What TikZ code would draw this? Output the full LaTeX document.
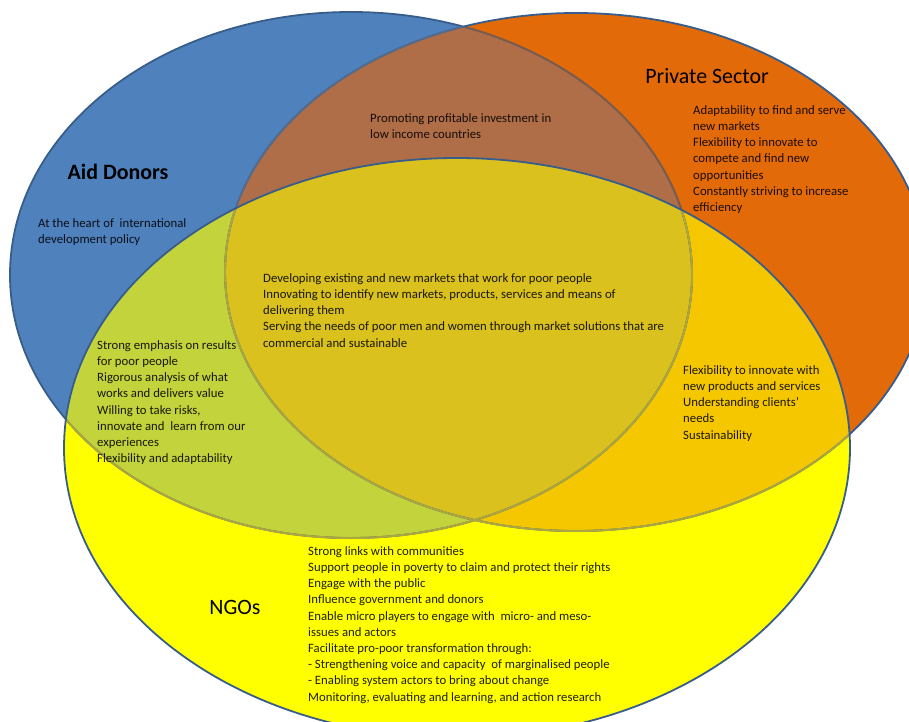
\documentclass[tikz,border=0pt]{standalone}
\usepackage{fontspec}
\setmainfont{Carlito}
\definecolor{cBlue}{HTML}{4F81BD}
\definecolor{cOrange}{HTML}{E36A08}
\definecolor{cBrown}{HTML}{B06E48}
\definecolor{cYellow}{HTML}{FFFF00}
\definecolor{cGreen}{HTML}{C3D33B}
\definecolor{cGold}{HTML}{F5C700}
\definecolor{cCenter}{HTML}{DAC11E}
\definecolor{cLine}{HTML}{385D8A}
\definecolor{cLineBrown}{HTML}{8A5A3A}
\definecolor{cLineGrey}{HTML}{5A6E8C}
\definecolor{cOlive}{HTML}{ABA63E}
\tikzset{
  body/.style={anchor=north west, inner sep=0pt, align=left,
    font=\fontsize{12.8}{16.3}\selectfont, text=black, text opacity=0.88},
  title/.style={inner sep=0pt, font=\fontsize{22}{26}\selectfont, text=black},
  outer/.style={draw=cLine, line width=1.8bp},
  inner/.style={line width=1.3bp}
}
\begin{document}
\begin{tikzpicture}[x=1bp,y=-1bp]
\useasboundingbox (0,0) rectangle (909,722);
\clip (0,0) rectangle (909,722);
\def\ElB{(351,275) ellipse [x radius=341, y radius=263]}
\def\ElO{(576,272) ellipse [x radius=351, y radius=259]}
\def\ElY{(457,448) ellipse [x radius=393, y radius=290]}
% fills
\fill[cBlue] \ElB;
\fill[cOrange] \ElO;
\begin{scope}
  \clip \ElB;
  \fill[cBrown] \ElO;
\end{scope}
\fill[cYellow] \ElY;
\begin{scope}
  \clip \ElY;
  \fill[cGreen] \ElB;
  \fill[cGold] \ElO;
  \clip \ElB;
  \fill[cCenter] \ElO;
\end{scope}
% outlines
\draw[outer] \ElB;
\begin{scope}
  \clip \ElO;
  \draw[inner, draw=cLineBrown] \ElB;
\end{scope}
\draw[outer] \ElO;
\begin{scope}
  \clip \ElB;
  \draw[inner, draw=cLineGrey] \ElO;
\end{scope}
\begin{scope}
  \clip \ElY;
  \draw[line width=2bp, draw=cOlive] \ElB;
  \draw[line width=2bp, draw=cOlive] \ElO;
\end{scope}
\draw[outer] \ElY;
% titles
\node[title, font=\fontsize{22}{26}\selectfont\bfseries] (tAid) at (118,172) {Aid Donors};
\node[title] (tPriv) at (707,76) {Private Sector};
\node[title] (tNGO) at (235,607) {NGOs};
% texts
\node[body] (promo) at (370,113) {Promoting profitable investment in\\low income countries};
\node[body] (aid) at (38,218) {At the heart of\ \ international\\development policy};
\begin{scope}
  \clip \ElO;
  \node[body] (priv) at (693,105) {Adaptability to find and serve\\new markets\\Flexibility to innovate to\\compete and find new\\opportunities\\Constantly striving to increase\\efficiency};
\end{scope}
\node[body] (center) at (263,273) {Developing existing and new markets that work for poor people\\Innovating to identify new markets, products, services and means of\\delivering them\\Serving the needs of poor men and women through market solutions that are\\commercial and sustainable};
\node[body] (left) at (97,340) {Strong emphasis on results\\for poor people\\Rigorous analysis of what\\works and delivers value\\Willing to take risks,\\innovate and\ \ learn from our\\experiences\\Flexibility and adaptability};
\node[body] (right) at (683,365) {Flexibility to innovate with\\new products and services\\Understanding clients’\\needs\\Sustainability};
\node[body] (ngo) at (308,546) {Strong links with communities\\Support people in poverty to claim and protect\ their rights\\Engage with the public\\Influence government\ and donors\\Enable micro players to engage with\ \ micro- and meso-\\issues and actors\\Facilitate pro-poor transformation through:\\- Strengthening voice and capacity\ \ of marginalised people\\- Enabling system actors to bring about change\\Monitoring, evaluating and learning, and action research};
\end{tikzpicture}
\end{document}
